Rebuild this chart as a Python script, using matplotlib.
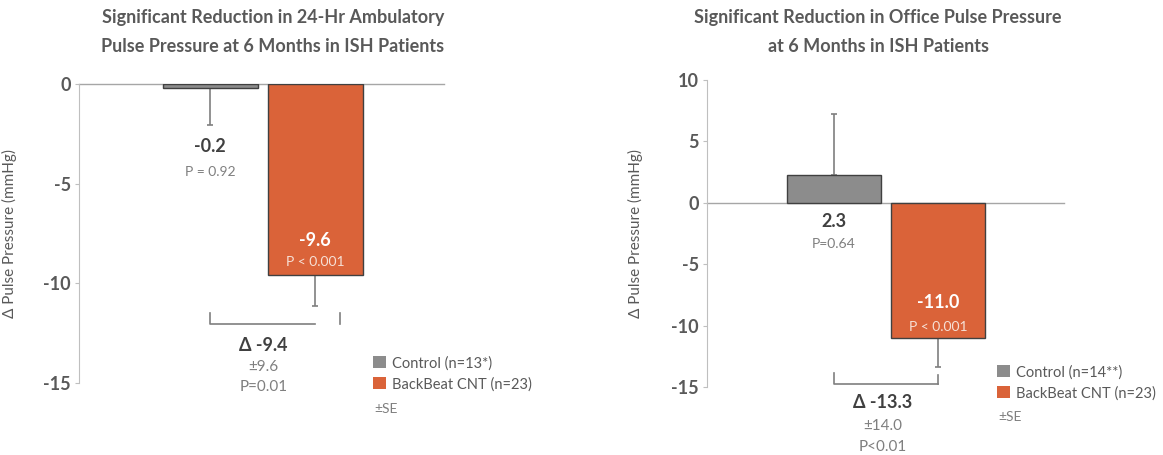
import matplotlib.pyplot as plt
from matplotlib.patches import Patch

plt.rcParams['font.family'] = ['Lato', 'DejaVu Sans']
plt.rcParams['axes.unicode_minus'] = False

# data
groups = ['Control', 'BackBeat CNT']
amb_change = [-0.2, -9.6]
amb_se = [1.85, 1.55]
amb_p = ['P = 0.92', 'P < 0.001']
amb_n = ['13*', '23']
amb_diff, amb_diff_se, amb_diff_p = -9.4, 9.6, 'P=0.01'

off_change = [2.3, -11.0]
off_se = [4.9, 2.4]
off_p = ['P=0.64', 'P < 0.001']
off_n = ['14**', '23']
off_diff, off_diff_se, off_diff_p = -13.3, 14.0, 'P<0.01'

amb_ticks = [0, -5, -10, -15]
off_ticks = [10, 5, 0, -5, -10, -15]

amb_title = ['Significant Reduction in 24-Hr Ambulatory',
             'Pulse Pressure at 6 Months in ISH Patients']
off_title = ['Significant Reduction in Office Pulse Pressure',
             'at 6 Months in ISH Patients']

GRAY = '#8C8C8C'
ORANGE = '#DA6339'
TXT = '#595959'
DARK = '#404040'
LIGHT = '#7F7F7F'

W, H = 1163, 455
fig = plt.figure(figsize=(W / 100, H / 100), dpi=100)


def px_axes(x0, y0, x1, y1):
    return fig.add_axes([x0 / W, 1 - y1 / H, (x1 - x0) / W, (y1 - y0) / H])


def panel(ax, vals, se, pvals, ns, diff, diff_se, diff_p, ticks, xlim, ylim, lab_off,
          bracket, leg_xy, se_xy):
    x = [0, 1]
    ax.bar(x, vals, width=0.9, color=[GRAY, ORANGE], edgecolor=DARK, linewidth=1, zorder=3)
    for xi, v, e in zip(x, vals, se):
        yerr = [[0], [e]] if v > 0 else [[e], [0]]
        ax.errorbar([xi], [v], yerr=yerr, fmt='none', ecolor=LIGHT, elinewidth=1.2,
                    capsize=2.5, capthick=1.2, zorder=2, clip_on=False)
    ax.axhline(0, color='#A6A6A6', lw=1, zorder=1, clip_on=False)
    ax.set_xlim(*xlim)
    ax.set_ylim(*ylim)
    ax.set_xticks([])
    ax.set_yticks(ticks)
    ax.set_yticklabels([str(t) for t in ticks])
    for s in ['top', 'right', 'bottom']:
        ax.spines[s].set_visible(False)
    ax.spines['left'].set_color('#BFBFBF')
    ax.tick_params(axis='y', length=3, color='#BFBFBF', labelsize=13, labelcolor=TXT, pad=3)
    for t in ax.get_yticklabels():
        t.set_fontweight('bold')
    ax.set_ylabel('\u0394 Pulse Pressure (mmHg)', fontsize=11, color=TXT)
    ax.yaxis.set_label_coords(lab_off, 0.5)
    ax.patch.set_alpha(0)

    # value and p labels
    (v0y, p0y), (v1y, p1y) = bracket['labels']
    ax.text(0, v0y, f'{vals[0]:.1f}', ha='center', va='center', fontsize=13,
            fontweight='bold', color=DARK, clip_on=False)
    ax.text(0, p0y, pvals[0], ha='center', va='center', fontsize=10, color=LIGHT, clip_on=False)
    ax.text(1, v1y, f'{vals[1]:.1f}', ha='center', va='center', fontsize=13,
            fontweight='bold', color='white', clip_on=False)
    ax.text(1, p1y, pvals[1], ha='center', va='center', fontsize=10, color='#F6E0D6',
            clip_on=False)

    # difference bracket
    yb, ytop_l, xr, ytop_r = bracket['line']
    ax.plot([0, 0, 1], [ytop_l, yb, yb], color=LIGHT, lw=1.2, clip_on=False)
    ax.plot([xr, xr], [ytop_r, yb], color=LIGHT, lw=1.2, clip_on=False)
    dx, (dy, sy, py) = bracket['diff']
    ax.text(dx, dy, f'\u0394 {diff:.1f}', ha='center', va='center', fontsize=13,
            fontweight='bold', color=DARK, clip_on=False)
    ax.text(dx, sy, f'\u00b1{diff_se:.1f}', ha='center', va='center', fontsize=11,
            color=LIGHT, clip_on=False)
    ax.text(dx, py, diff_p, ha='center', va='center', fontsize=11, color=LIGHT, clip_on=False)

    handles = [Patch(facecolor=GRAY, edgecolor='none'), Patch(facecolor=ORANGE, edgecolor='none')]
    labels = [f'{g} (n={n})' for g, n in zip(groups, ns)]
    fig.legend(handles, labels, loc='upper left', bbox_to_anchor=(leg_xy[0] / W, 1 - leg_xy[1] / H),
               frameon=False, fontsize=10.5, labelcolor=TXT, handlelength=0.9, handleheight=0.9,
               handletextpad=0.4, labelspacing=0.45, borderpad=0, borderaxespad=0)
    fig.text(se_xy[0] / W, 1 - se_xy[1] / H, '\u00b1SE', ha='left', va='center',
             fontsize=10, color=LIGHT)


ax1 = px_axes(79, 84, 444, 383)
panel(ax1, amb_change, amb_se, amb_p, amb_n, amb_diff, amb_diff_se, amb_diff_p, amb_ticks,
      (-1.248, 2.224), (-15, 0), -0.17,
      {'labels': [(-3.16, -4.42), (-7.83, -8.93)],
       'line': (-12.05, -11.5, 1.23, -11.5),
       'diff': (0.505, (-13.1, -14.2, -15.2))},
      (373, 356), (374, 409))

ax2 = px_axes(707, 80, 1064, 387)
panel(ax2, off_change, off_se, off_p, off_n, off_diff, off_diff_se, off_diff_p, off_ticks,
      (-1.221, 2.212), (-15, 10), -0.179,
      {'labels': [(-1.55, -3.34), (-8.14, -10.1)],
       'line': (-14.72, -13.84, 1.0, -14.0),
       'diff': (0.47, (-16.3, -18.2, -19.9))},
      (997, 365), (998, 417))

for cx, lines in [(273, amb_title), (878, off_title)]:
    for yy, line in zip([18, 47], lines):
        fig.text(cx / W, 1 - yy / H, line, ha='center', va='center', fontsize=13,
                 fontweight='bold', color=TXT)

fig.savefig('out.png', dpi=100)
